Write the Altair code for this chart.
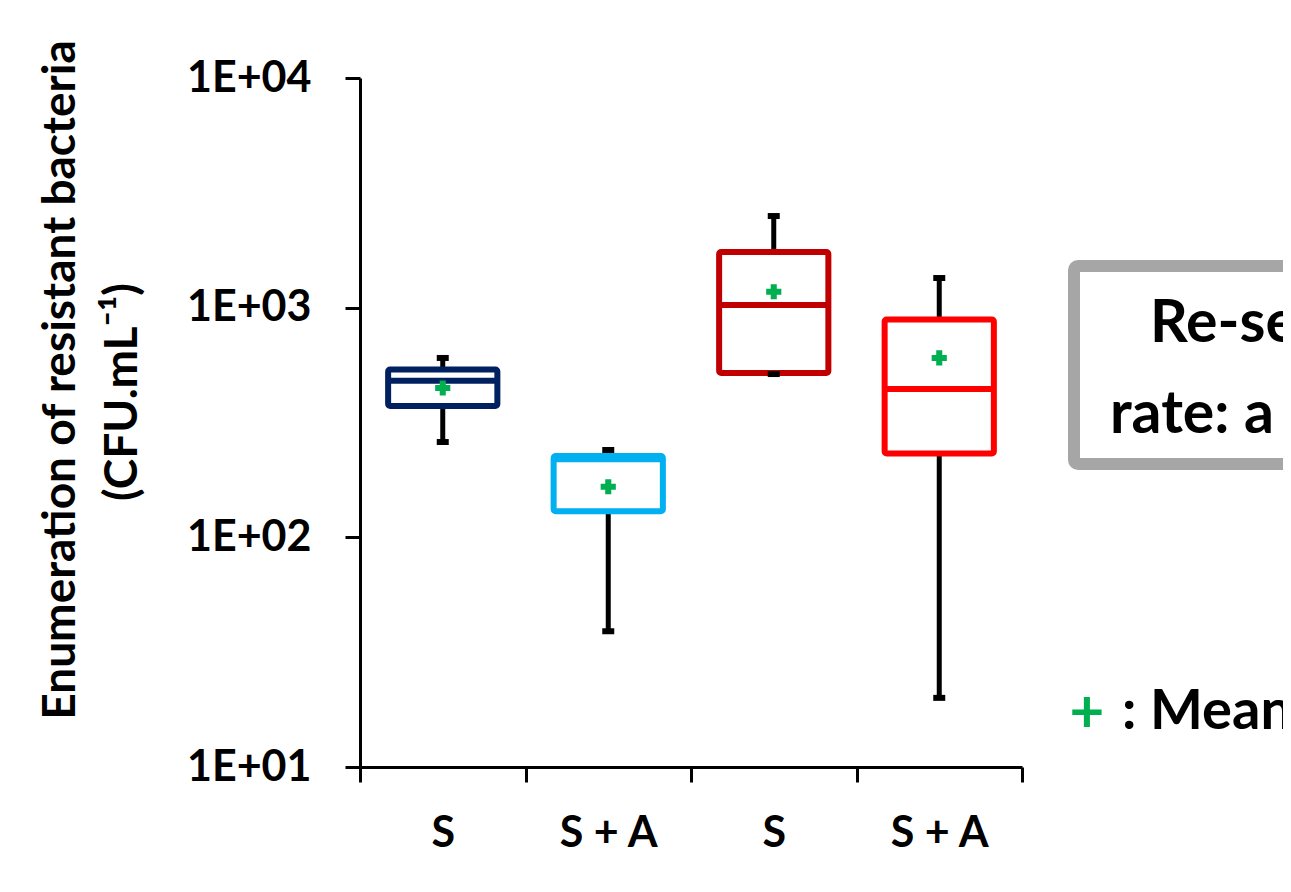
import altair as alt
import pandas as pd

# ---------------- data ----------------
group_ids = ["g1", "g2", "g3", "g4"]
group_labels = ["S", "S + A", "S", "S + A"]
box_colors = ["#002060", "#00B0F0", "#C00000", "#FF0000"]
whisker_min = [260, 39, 514, 20]
q1 = [373, 130, 519, 232]
median = [481, 219, 1027, 442]
q3 = [538, 226, 1747, 888]
whisker_max = [604, 240, 2506, 1346]
means = [447, 166, 1173, 604]

y_tick_values = [10, 100, 1000, 10000]
y_tick_labels = ["1E+01", "1E+02", "1E+03", "1E+04"]

y_title_1 = "Enumeration of resistant bacteria"
y_title_2 = "(CFU.mL\u207b\u00b9)"
box_text_1 = "Re-se"
box_text_2 = "rate: a"
legend_plus = "+"
legend_text = ": Mean"

FONT = "Lato"
MEAN_GREEN = "#00B050"

df = pd.DataFrame({
    "group": group_ids,
    "color": box_colors,
    "wmin": whisker_min,
    "q1": q1,
    "med": median,
    "q3": q3,
    "wmax": whisker_max,
    "mean": means,
})

x_label_expr = " : ".join(
    f"datum.value == '{g}' ? '{l}'" for g, l in zip(group_ids, group_labels)
) + " : ''"
y_label_expr = " : ".join(
    f"datum.value == {v} ? '{l}'" for v, l in zip(y_tick_values, y_tick_labels)
) + " : ''"

x_enc = alt.X(
    "group:N",
    sort=group_ids,
    scale=alt.Scale(domain=group_ids, paddingInner=0, paddingOuter=0),
    axis=alt.Axis(
        title=None, labelExpr=x_label_expr, labelAngle=0, tickBand="extent",
        domainColor="black", domainWidth=3, tickColor="black", tickWidth=3,
        tickSize=15, labelPadding=30, labelFont=FONT, labelFontSize=43,
        labelFontWeight="bold", labelColor="black",
    ),
)
y_scale = alt.Scale(type="log", domain=[10, 10000], nice=False)
y_axis = alt.Axis(
    title=None, values=y_tick_values, labelExpr=y_label_expr,
    domainColor="black", domainWidth=3, tickColor="black", tickWidth=3,
    tickSize=15, labelPadding=34, labelFont=FONT, labelFontSize=43,
    labelFontWeight="bold", labelColor="black", grid=False,
)

base = alt.Chart(df)

lower_whisker = base.mark_rule(color="black", strokeWidth=5, opacity=1).encode(
    x=x_enc, y=alt.Y("wmin:Q", scale=y_scale, axis=y_axis), y2="q1:Q"
)
upper_whisker = base.mark_rule(color="black", strokeWidth=5, opacity=1).encode(
    x=x_enc, y=alt.Y("q3:Q", scale=y_scale, axis=y_axis), y2="wmax:Q"
)
boxes = base.mark_bar(
    width=alt.RelativeBandSize(0.66), fill="white", strokeWidth=6,
    cornerRadius=2, opacity=1
).encode(
    x=x_enc,
    y=alt.Y("q1:Q", scale=y_scale, axis=y_axis),
    y2="q3:Q",
    stroke=alt.Color("color:N", scale=None),
)
medians = base.mark_tick(size=109, thickness=6, opacity=1).encode(
    x=x_enc,
    y=alt.Y("med:Q", scale=y_scale, axis=y_axis),
    color=alt.Color("color:N", scale=None),
)
cap_low = base.mark_tick(size=12, thickness=6, color="black", opacity=1).encode(
    x=x_enc, y=alt.Y("wmin:Q", scale=y_scale, axis=y_axis)
)
cap_high = base.mark_tick(size=12, thickness=6, color="black", opacity=1).encode(
    x=x_enc, y=alt.Y("wmax:Q", scale=y_scale, axis=y_axis)
)
mean_pts = base.mark_point(
    shape="cross", filled=True, size=230, color=MEAN_GREEN, opacity=1
).encode(x=x_enc, y=alt.Y("mean:Q", scale=y_scale, axis=y_axis))


def label(text, x, y, size, **kw):
    return alt.Chart(pd.DataFrame({"t": [text]})).mark_text(
        font=FONT, fontWeight="bold", fontSize=size, **kw
    ).encode(text="t:N", x=alt.value(x), y=alt.value(y))


title1 = label(y_title_1, -285, 302, 46, angle=270, align="center",
               baseline="alphabetic", color="black")
title2 = label(y_title_2, -223, 314, 46, angle=270, align="center",
               baseline="alphabetic", color="black")

frame = alt.Chart(pd.DataFrame({"t": [1]})).mark_rect(
    fill="white", stroke="#A6A6A6", strokeWidth=12, cornerRadius=4, opacity=1
).encode(x=alt.value(714), x2=alt.value(1200), y=alt.value(188), y2=alt.value(386))

txt1 = label(box_text_1, 790, 264, 59, align="left", baseline="alphabetic", color="black")
txt2 = label(box_text_2, 750, 355, 59, align="left", baseline="alphabetic", color="black")
plus = label(legend_plus, 727, 654, 60, align="center", baseline="alphabetic", color=MEAN_GREEN)
mean_txt = label(legend_text, 762, 651, 56, align="left", baseline="alphabetic", color="black")

chart = alt.layer(
    lower_whisker, upper_whisker, boxes, medians, cap_low, cap_high, mean_pts,
    title1, title2, frame, txt1, txt2, plus, mean_txt,
).properties(
    width=662, height=689,
    background="white",
    autosize=alt.AutoSizeParams(type="none"),
    padding={"left": 352, "top": 70, "right": 261, "bottom": 117},
).configure_view(stroke=None, strokeWidth=0)

chart.save("out.html", embed_options={"renderer": "svg", "actions": False})
